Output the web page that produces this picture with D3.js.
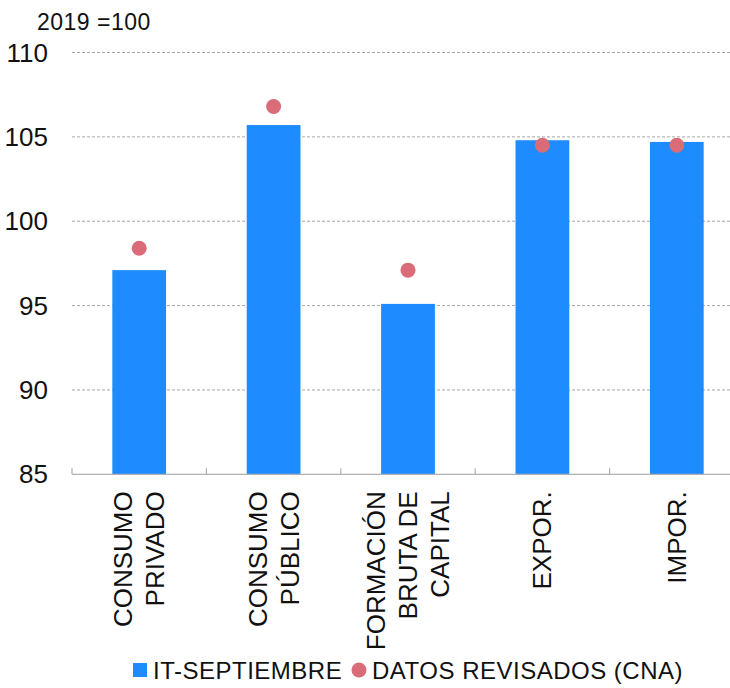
<!DOCTYPE html>
<html>
<head>
<meta charset="utf-8">
<script src="https://cdn.jsdelivr.net/npm/d3@7"></script>
<style>
  html, body { margin: 0; padding: 0; background: #fff; }
  svg { display: block; font-family: "Liberation Sans", Arial, Helvetica, sans-serif; }
</style>
</head>
<body>
<svg id="chart" width="730" height="688"></svg>
<script>
// ---- data ----
const categories = [
  ["CONSUMO", "PRIVADO"],
  ["CONSUMO", "PÚBLICO"],
  ["FORMACIÓN", "BRUTA DE", "CAPITAL"],
  ["EXPOR."],
  ["IMPOR."]
];
const categoryKeys = ["CONSUMO PRIVADO", "CONSUMO PÚBLICO", "FORMACIÓN BRUTA DE CAPITAL", "EXPOR.", "IMPOR."];
const itSeptiembre = [97.1, 105.7, 95.1, 104.8, 104.7];
const datosRevisados = [98.4, 106.8, 97.1, 104.5, 104.5];
const yTicks = [85, 90, 95, 100, 105, 110];
const seriesNames = ["IT-SEPTIEMBRE", "DATOS REVISADOS (CNA)"];
const unitLabel = "2019 =100";

// ---- layout ----
const svg = d3.select("#chart");
const mLeft = 72, mRight = 744, mTop = 52.5, mBottom = 474.3;
const blue = "#1e8bff", red = "#d96c78", grid = "#a6a6a6", axisCol = "#b0b0b0";

const y = d3.scaleLinear().domain([85, 110]).range([mBottom, mTop]);
const x = d3.scaleBand().domain(categoryKeys).range([mLeft, mRight])
  .paddingInner(0.6).paddingOuter(0.3);

// gridlines
svg.append("g").selectAll("line").data(yTicks.filter(t => t > 85)).join("line")
  .attr("x1", mLeft).attr("x2", 730)
  .attr("y1", d => y(d)).attr("y2", d => y(d))
  .attr("stroke", grid).attr("stroke-width", 1).attr("stroke-dasharray", "3,2");

// y labels
svg.append("g").selectAll("text").data(yTicks).join("text")
  .attr("x", 48).attr("y", d => y(d)).attr("dy", "0.35em")
  .attr("text-anchor", "end").attr("font-size", 26).attr("fill", "#111")
  .text(d => d);

svg.append("text").attr("x", 37).attr("y", 30)
  .attr("font-size", 23).attr("letter-spacing", 0.5).attr("fill", "#111").text(unitLabel);

// bars
svg.append("g").selectAll("rect").data(categoryKeys).join("rect")
  .attr("x", d => x(d)).attr("width", x.bandwidth())
  .attr("y", (d, i) => y(itSeptiembre[i]))
  .attr("height", (d, i) => y(85) - y(itSeptiembre[i]))
  .attr("fill", blue);

// x axis line & ticks
const step = x.step();
svg.append("line").attr("x1", mLeft).attr("x2", 730)
  .attr("y1", mBottom).attr("y2", mBottom).attr("stroke", axisCol).attr("stroke-width", 1.2);
const boundaries = categoryKeys.map(d => x(d) - (step - x.bandwidth()) / 2);
svg.append("g").selectAll("line").data(boundaries).join("line")
  .attr("x1", d => d).attr("x2", d => d)
  .attr("y1", mBottom).attr("y2", mBottom - 6)
  .attr("stroke", axisCol).attr("stroke-width", 1.2);

// dots
svg.append("g").selectAll("circle").data(categoryKeys).join("circle")
  .attr("cx", d => x(d) + x.bandwidth() / 2)
  .attr("cy", (d, i) => y(datosRevisados[i]))
  .attr("r", 7.5).attr("fill", red);

// category labels (rotated)
const lineH = 32;
categoryKeys.forEach((k, i) => {
  const lines = categories[i];
  const cx = x(k) + x.bandwidth() / 2;
  const n = lines.length;
  lines.forEach((ln, j) => {
    const off = (j - (n - 1) / 2) * lineH;
    const tx = cx + off;
    svg.append("text")
      .attr("transform", `translate(${tx + 9},${mBottom + 17}) rotate(-90)`)
      .attr("text-anchor", "end")
      .attr("font-size", 26).attr("fill", "#111")
      .text(ln);
  });
});

// legend
svg.append("rect").attr("x", 133).attr("y", 663).attr("width", 14).attr("height", 14).attr("fill", blue);
svg.append("text").attr("x", 153).attr("y", 679).attr("font-size", 24).attr("letter-spacing", 0.5)
  .attr("fill", "#111").text(seriesNames[0]);
svg.append("circle").attr("cx", 359).attr("cy", 670).attr("r", 7.5).attr("fill", red);
svg.append("text").attr("x", 372).attr("y", 679).attr("font-size", 24).attr("letter-spacing", 0.5)
  .attr("fill", "#111").text(seriesNames[1]);
</script>
</body>
</html>
